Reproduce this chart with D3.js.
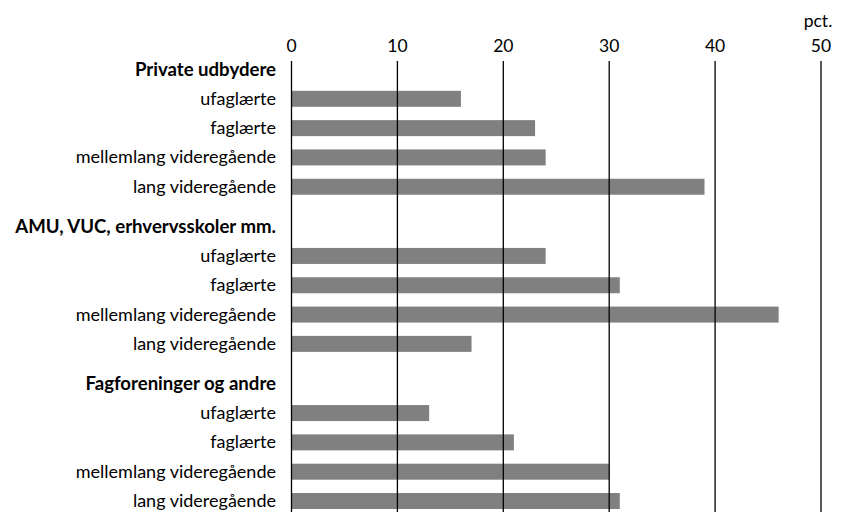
<!DOCTYPE html>
<html lang="da">
<head>
<meta charset="UTF-8">
<title>Kursusudbydere</title>
<script src="https://cdn.jsdelivr.net/npm/d3@7"></script>
<style>
    body { margin: 0; background: #fff; }
    text { font-family: Lato, 'Open Sans', sans-serif; fill: #000; }
    .lbl { font-size: 18px; }
    .grp { font-size: 18.6px; font-weight: bold; }
    .tick { font-size: 17.5px; }
</style>
</head>
<body>
<div id="chart"></div>
<script>
// data
var groups = ["Private udbydere", "AMU, VUC, erhvervsskoler mm.", "Fagforeninger og andre"];
var levels = ["ufaglærte", "faglærte", "mellemlang videregående", "lang videregående"];
var privateValues = [16, 23, 24, 39];
var amuValues = [24, 31, 46, 17];
var fagValues = [13, 21, 30, 31];
var tickValues = [0, 10, 20, 30, 40, 50];

var W = 841, H = 512;
var gap = 0.36; // extra space between groups, in rows

// flatten into rows: header + 4 levels for each group
var allValues = [privateValues, amuValues, fagValues];
var rows = [];
groups.forEach(function (g, gi) {
    var base = gi * (5 + gap);
    rows.push({label: g, header: true, slot: base});
    levels.forEach(function (l, li) {
        rows.push({label: l, header: false, slot: base + 1 + li, value: allValues[gi][li]});
    });
});

var x = d3.scaleLinear().domain([0, 50]).range([291.5, 821]);
var y = d3.scaleLinear()
    .domain([0, d3.max(rows, function (d) { return d.slot; })])
    .range([69.5, 501]);

var svg = d3.select("#chart").append("svg")
    .attr("width", W)
    .attr("height", H);

// bars
svg.selectAll("rect.bar")
    .data(rows.filter(function (d) { return !d.header; }))
    .enter().append("rect")
    .attr("class", "bar")
    .attr("x", x(0))
    .attr("y", function (d) { return y(d.slot) - 8; })
    .attr("width", function (d) { return x(d.value) - x(0); })
    .attr("height", 16)
    .attr("fill", "#808080");

// vertical grid lines on top of the bars
svg.selectAll("line.grid")
    .data(tickValues)
    .enter().append("line")
    .attr("class", "grid")
    .attr("x1", function (d) { return x(d); })
    .attr("x2", function (d) { return x(d); })
    .attr("y1", 61)
    .attr("y2", H)
    .attr("stroke", "#000")
    .attr("stroke-width", 1.3);

// tick labels
svg.selectAll("text.tick")
    .data(tickValues)
    .enter().append("text")
    .attr("class", "tick")
    .attr("x", function (d) { return x(d); })
    .attr("y", 52)
    .attr("text-anchor", "middle")
    .text(function (d) { return d; });

svg.append("text")
    .attr("class", "tick")
    .attr("x", x(50) - 3)
    .attr("y", 27)
    .attr("text-anchor", "middle")
    .text("pct.");

// row labels
svg.selectAll("text.row")
    .data(rows)
    .enter().append("text")
    .attr("class", function (d) { return d.header ? "row grp" : "row lbl"; })
    .attr("x", 276)
    .attr("y", function (d) { return y(d.slot) + 6; })
    .attr("text-anchor", "end")
    .text(function (d) { return d.label; });
</script>
</body>
</html>
